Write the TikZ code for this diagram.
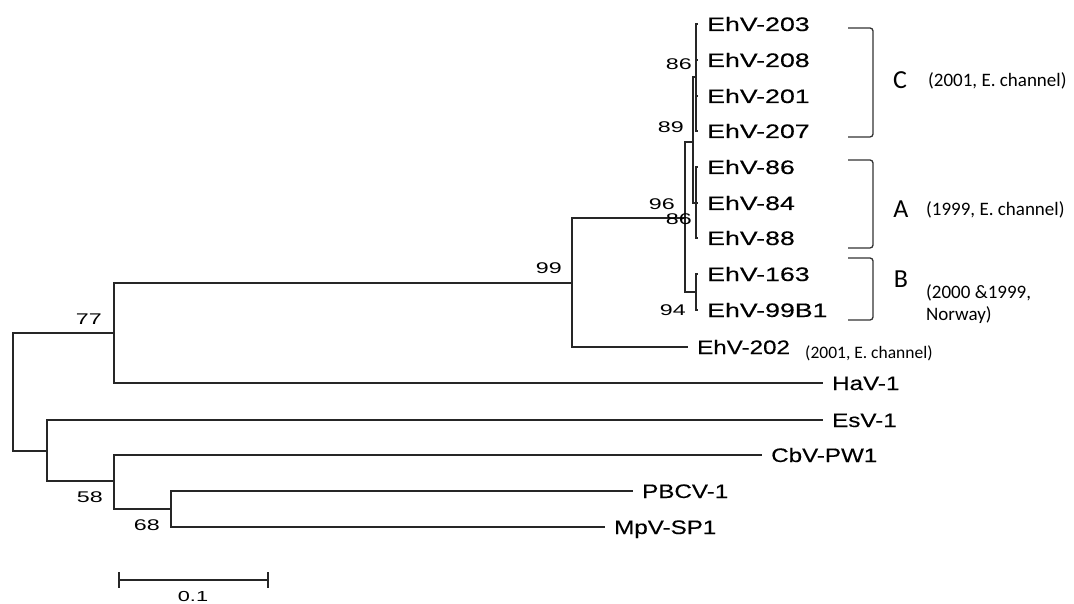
\documentclass[tikz,border=0pt]{standalone}
\usepackage{fontspec}
\newfontfamily\ehvfont[FakeStretch=1.37,FakeBold=0.3]{Liberation Sans}
\newfontfamily\arlfont[FakeStretch=1.24,FakeBold=0.3]{Liberation Sans}
\newfontfamily\numfont[FakeStretch=1.5]{Liberation Sans}
\newfontfamily\calfont{Carlito}
\tikzset{
  br/.style={line width=1.4pt, draw=black!85},
  leaf/.style={anchor=west, inner xsep=9pt, inner ysep=0pt, text height=14pt, text depth=0pt, font=\arlfont\fontsize{19.5}{20}\selectfont},
  ehv/.style={leaf, font=\ehvfont\fontsize{19.5}{20}\selectfont},
  boot/.style={anchor=east, inner sep=0pt, font=\numfont\fontsize{15.5}{16}\selectfont},
  note/.style={anchor=west, inner sep=0pt, font=\calfont\fontsize{19}{22}\selectfont, align=left},
  grp/.style={inner sep=0pt, font=\calfont\fontsize{26}{28}\selectfont},
  bracket/.style={line width=1.3pt, draw=black!80, rounded corners=3pt}
}
\begin{document}
\begin{tikzpicture}[x=1pt,y=-1pt]
\useasboundingbox[fill=white] (0,0) rectangle (1074,604);
% internal nodes
\coordinate (r) at (13,392);
\coordinate (n77) at (114,333);
\coordinate (nLow) at (47,451);
\coordinate (n58) at (114,481);
\coordinate (n68) at (171,509);
\coordinate (n99) at (572,283);
\coordinate (n96) at (685,218);
\coordinate (n89) at (693,142);
\coordinate (nC) at (696,77);
\coordinate (nA) at (696,203);
\coordinate (nB) at (696,292);
% leaves
\node[ehv] (l203) at (698,24) {EhV-203};
\node[ehv] (l208) at (698,60) {EhV-208};
\node[ehv] (l201) at (698,96) {EhV-201};
\node[ehv] (l207) at (698,131) {EhV-207};
\node[ehv] (l86) at (698,167) {EhV-86};
\node[ehv] (l84) at (698,203) {EhV-84};
\node[ehv] (l88) at (698,238) {EhV-88};
\node[ehv] (l163) at (698,274) {EhV-163};
\node[ehv] (l99) at (698,310) {EhV-99B1};
\node[leaf] (l202) at (688,347) {EhV-202};
\node[leaf] (hav) at (823,383) {HaV-1};
\node[leaf] (esv) at (823,420) {EsV-1};
\node[leaf] (cbv) at (762,455) {CbV-PW1};
\node[leaf] (pbcv) at (633,491) {PBCV-1};
\node[leaf] (mpv) at (605,527) {MpV-SP1};
% branches
\draw[br] (r) |- (n77);
\draw[br] (r) |- (nLow);
\draw[br] (n77) |- (n99);
\draw[br] (n77) |- (hav.west);
\draw[br] (nLow) |- (esv.west);
\draw[br] (nLow) |- (n58);
\draw[br] (n58) |- (cbv.west);
\draw[br] (n58) |- (n68);
\draw[br] (n68) |- (pbcv.west);
\draw[br] (n68) |- (mpv.west);
\draw[br] (n99) |- (n96);
\draw[br] (n99) |- (l202.west);
\draw[br] (n96) |- (n89);
\draw[br] (n96) |- (nB);
\draw[br] (n89) |- (nC);
\draw[br] (n89) |- (nA);
\draw[br] (nC) |- (l203.west);
\draw[br] (nC) |- (l208.west);
\draw[br] (nC) |- (l201.west);
\draw[br] (nC) |- (l207.west);
\draw[br] (nA) |- (l86.west);
\draw[br] (nA) |- (l84.west);
\draw[br] (nA) |- (l88.west);
\draw[br] (nB) |- (l163.west);
\draw[br] (nB) |- (l99.west);
% bootstrap values
\node[boot] (b86a) at (692,64) {86};
\node[boot] (b89) at (684,127) {89};
\node[boot] (b96) at (675,204) {96};
\node[boot] (b86b) at (692,219) {86};
\node[boot] (b94) at (686,310) {94};
\node[boot] (b99) at (562,268) {99};
\node[boot] (b77) at (102,319) {77};
\node[boot] (b58) at (103,497) {58};
\node[boot] (b68) at (160,525) {68};
% brackets
\draw[bracket] (848,28) -- (873,28) -- (873,137) -- (848,137);
\draw[bracket] (848,160) -- (873,160) -- (873,248) -- (848,248);
\draw[bracket] (848,258) -- (873,258) -- (873,320) -- (848,320);
\node[grp] (gC) at (900,80) {C};
\node[grp] (gA) at (901,209) {A};
\node[grp] (gB) at (901,279) {B};
\node[note] (tC) at (928,81) {(2001, E. channel)};
\node[note] (tA) at (926,210) {(1999, E. channel)};
\node[note] (tB) at (926,304) {(2000 \&1999,\\Norway)};
\node[note, font=\calfont\fontsize{17.5}{20}\selectfont] (t202) at (805,353) {(2001, E. channel)};
% scale bar
\coordinate (s1) at (119,580);
\coordinate (s2) at (268,580);
\draw[br] (s1) -- (s2);
\draw[br] ([yshift=8pt]s1) -- ([yshift=-8pt]s1);
\draw[br] ([yshift=8pt]s2) -- ([yshift=-8pt]s2);
\node[boot, anchor=center, font=\numfont\fontsize{14.5}{15}\selectfont] (sc) at (193,597) {0.1};
\end{tikzpicture}
\end{document}
